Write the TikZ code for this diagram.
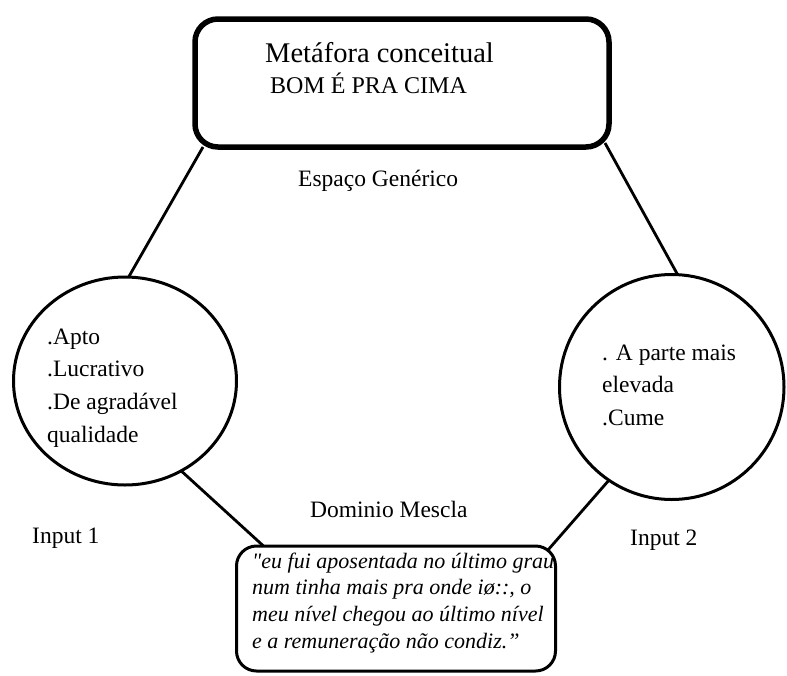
\documentclass[tikz,border=0pt]{standalone}
\usepackage{fontspec}
\setmainfont{Liberation Serif}
\usetikzlibrary{shapes.geometric,calc}
\begin{document}
\begin{tikzpicture}[x=1pt,y=-1pt,
  boxtop/.style={draw,line width=5.5pt,rounded corners=23pt,minimum width=414pt,minimum height=128pt,inner sep=0pt,outer sep=0pt},
  boxbot/.style={draw,line width=3pt,rounded corners=20pt,minimum width=319pt,minimum height=125pt,inner sep=0pt,outer sep=0pt},
  inputcirc/.style={draw,ellipse,line width=3pt,inner sep=0pt,outer sep=0pt},
  link/.style={line width=2.8pt},
  lbl/.style={anchor=base west,inner sep=0pt,font=\fontsize{23.5pt}{32.7pt}\selectfont},
]
\useasboundingbox (0,0) rectangle (787,675);

\node[boxtop] (top) at (402,83) {};
\node[boxbot] (bot) at (396,608.5) {};
\node[inputcirc,minimum width=223pt,minimum height=208pt] (lc) at (125,381) {};
\node[inputcirc,minimum width=224.5pt,minimum height=225pt] (rc) at (671.75,387) {};

\node[anchor=base west,inner sep=0pt,font=\fontsize{28.5pt}{30pt}\selectfont] (t1) at (265,62) {Metáfora conceitual};
\node[anchor=base west,inner sep=0pt,font=\fontsize{24pt}{28pt}\selectfont] (t2) at (270,93) {BOM É PRA CIMA};
\node[lbl] (gen) at (298,186) {Espaço Genérico};
\node[lbl] (in1text) at (47,344) {\vtop{\hbox{.Apto}\hbox{.Lucrativo}\hbox{.De agradável}\hbox{qualidade}}};
\node[lbl,font=\fontsize{23.5pt}{32.5pt}\selectfont] (in2text) at (602,360) {\vtop{\hbox{. A parte mais}\hbox{elevada}\hbox{.Cume}}};
\node[lbl] (mes) at (310,517) {Dominio Mescla};
\node[lbl] (i1) at (32,543) {Input 1};
\node[lbl] (i2) at (630,545) {Input 2};

\begin{scope}
  \clip[rounded corners=18.5pt] ([shift={(1.5,1.5)}]bot.north west) rectangle ([shift={(-1.5,-1.5)}]bot.south east);
  \node[anchor=base west,inner sep=0pt,font=\fontsize{22pt}{26.7pt}\selectfont\itshape] (quote) at (252,568)
    {\vtop{\hbox{{\addfontfeatures{Ligatures=TeXOff}"}eu fui aposentada no último grau}\hbox{num tinha mais pra onde iø::, o}\hbox{meu nível chegou ao último nível}\hbox{e a remuneração não condiz.”}}};
\end{scope}

\draw[link] ([xshift=8pt]top.south west) -- (lc.88);
\draw[link] ([xshift=-4pt,yshift=4pt]top.south east) -- (rc.87);
\draw[link] (lc.-58) -- ([xshift=27pt]bot.north west);
\draw[link] (rc.-124) -- ([xshift=-7.5pt,yshift=-4pt]bot.north east);
\end{tikzpicture}
\end{document}
